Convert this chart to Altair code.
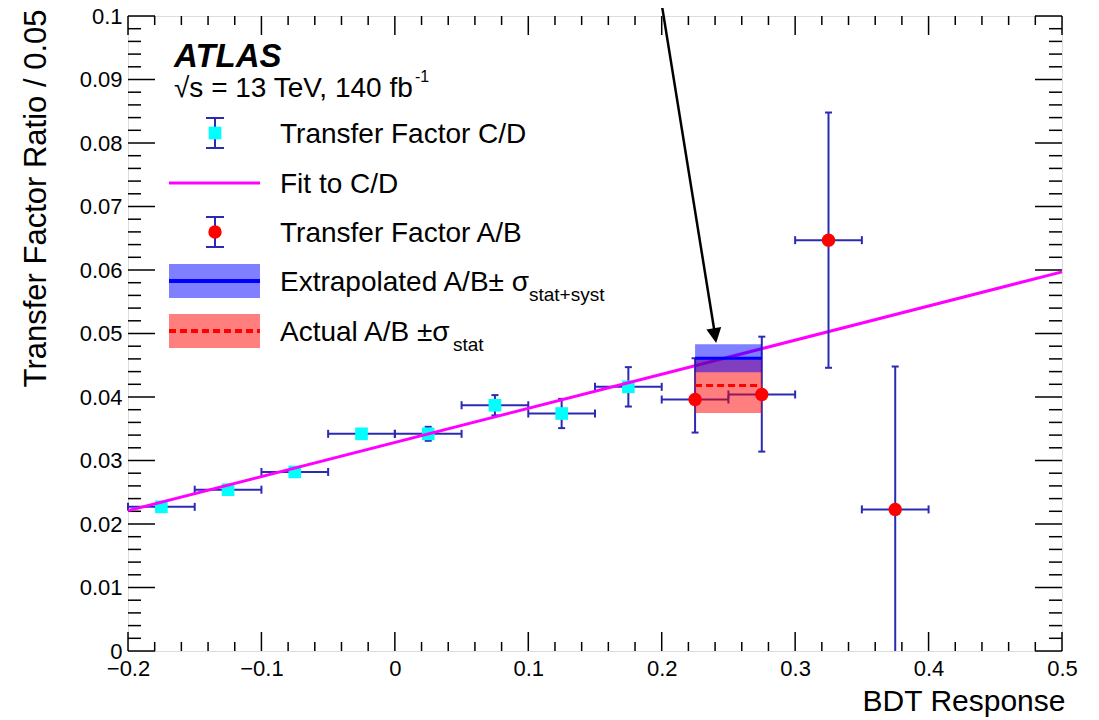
import altair as alt
import pandas as pd

# ---------------- data ----------------
cd_x = [-0.175, -0.125, -0.075, -0.025, 0.025, 0.075, 0.125, 0.175]
cd_y = [0.0227, 0.0254, 0.0282, 0.0342, 0.0342, 0.0387, 0.0374, 0.0416]
cd_yerr = [0.0005, 0.0005, 0.0006, 0.0006, 0.0011, 0.0016, 0.0023, 0.0031]
bin_half = 0.025

ab_x = [0.225, 0.275, 0.325, 0.375]
ab_y = [0.0396, 0.0404, 0.0647, 0.0223]
ab_yerr_lo = [0.0052, 0.0090, 0.0201, 0.0223]
ab_yerr_hi = [0.0065, 0.0091, 0.0201, 0.0225]

fit_x = [-0.2, 0.5]
fit_y = [0.0221, 0.0597]

box_x = [0.225, 0.275]
ext_center, ext_err = 0.0461, 0.0022
act_center, act_err = 0.0418, 0.0043

arrow_x = [0.1995, 0.2398]
arrow_y = [0.1025, 0.0500]
arrow_tip = [0.2408, 0.0485]

x_major = [-0.2, -0.1, 0.0, 0.1, 0.2, 0.3, 0.4, 0.5]
y_major = [0.0, 0.01, 0.02, 0.03, 0.04, 0.05, 0.06, 0.07, 0.08, 0.09, 0.1]
x_minor = [round(-0.2 + 0.02 * i, 3) for i in range(36) if i % 5 != 0]
y_minor = [round(0.002 * i, 4) for i in range(51) if i % 5 != 0]

legend_labels = ["Transfer Factor C/D", "Fit to C/D", "Transfer Factor A/B",
                 "Extrapolated A/B\u00b1 \u03c3", "Actual A/B \u00b1\u03c3"]
legend_subs = ["stat+syst", "stat"]

W, H = 934, 635
FONT = "Liberation Sans"
ERRC = "#2a2ab4"

xs = alt.Scale(domain=[-0.2, 0.5], nice=False, zero=False)
ys = alt.Scale(domain=[0.0, 0.1], nice=False, zero=False)

XAX = alt.Axis(values=x_major, format=".1~f", grid=False, ticks=False, domain=False,
               labelFontSize=22, labelPadding=7, labelOverlap=False, labelFlush=False,
               labelColor="black", labelFont=FONT,
               title="BDT Response", titleFontSize=30, titleFontWeight="normal",
               titleFont=FONT, titleColor="black", titleAlign="right",
               titleAnchor="end", titleX=W + 3, titleY=59, titleBaseline="alphabetic")
YAX = alt.Axis(values=y_major, format=".2~f", grid=False, ticks=False, domain=False,
               labelFontSize=22, labelPadding=6, labelOverlap=False, labelFlush=False,
               labelColor="black", labelFont=FONT,
               title="Transfer Factor Ratio / 0.05", titleFontSize=31,
               titleFontWeight="normal", titleFont=FONT, titleColor="black",
               titleAngle=270, titleAlign="right", titleAnchor="end",
               titleX=-83, titleY=-7, titleBaseline="alphabetic")


def X(f):
    return alt.X(f, type="quantitative", scale=xs, axis=XAX, title="BDT Response")


def Y(f):
    return alt.Y(f, type="quantitative", scale=ys, axis=YAX, title="Transfer Factor Ratio / 0.05")


cd = pd.DataFrame({"x": cd_x, "y": cd_y})
cd["xlo"] = cd["x"] - bin_half
cd["xhi"] = cd["x"] + bin_half
cd["ylo"] = cd["y"] - pd.Series(cd_yerr)
cd["yhi"] = cd["y"] + pd.Series(cd_yerr)

ab = pd.DataFrame({"x": ab_x, "y": ab_y})
ab["xlo"] = ab["x"] - bin_half
ab["xhi"] = ab["x"] + bin_half
ab["ylo"] = ab["y"] - pd.Series(ab_yerr_lo)
ab["yhi"] = ab["y"] + pd.Series(ab_yerr_hi)

fit = pd.DataFrame({"x": fit_x, "y": fit_y})
box = pd.DataFrame({
    "x": [box_x[0]], "x2": [box_x[1]],
    "elo": [ext_center - ext_err], "ehi": [ext_center + ext_err], "ec": [ext_center],
    "alo": [act_center - act_err], "ahi": [act_center + act_err], "ac": [act_center],
})
arrow = pd.DataFrame({"x": [arrow_x[0]], "x2": [arrow_x[1]], "y": [arrow_y[0]], "y2": [arrow_y[1]]})
tip = pd.DataFrame({"x": [arrow_tip[0]], "y": [arrow_tip[1]]})

one = pd.DataFrame({"a": [0]})

layers = []

# frame ticks (inward, ROOT style)
def tick_layer(vals, side, length):
    df = pd.DataFrame({"v": vals})
    base = alt.Chart(df).mark_rule(color="black", strokeWidth=1.5)
    if side == "bottom":
        return base.encode(x=X("v"), y=alt.value(H), y2=alt.value(H - length))
    if side == "top":
        return base.encode(x=X("v"), y=alt.value(0), y2=alt.value(length))
    if side == "left":
        return base.encode(y=Y("v"), x=alt.value(0), x2=alt.value(length))
    return base.encode(y=Y("v"), x=alt.value(W), x2=alt.value(W - length))

layers += [
    tick_layer(x_major, "bottom", 19), tick_layer(x_minor, "bottom", 9),
    tick_layer(x_major, "top", 19), tick_layer(x_minor, "top", 9),
    tick_layer(y_major, "left", 27), tick_layer(y_minor, "left", 13),
    tick_layer(y_major, "right", 27), tick_layer(y_minor, "right", 13),
]

# C/D error bars
cd_base = alt.Chart(cd)
layers += [
    cd_base.mark_rule(color=ERRC, strokeWidth=2).encode(x=X("xlo"), x2="xhi", y=Y("y")),
    cd_base.mark_rule(color=ERRC, strokeWidth=2).encode(x=X("x"), y=Y("ylo"), y2="yhi"),
    cd_base.mark_tick(color=ERRC, orient="vertical", size=8, thickness=2, opacity=1).encode(x=X("xlo"), y=Y("y")),
    cd_base.mark_tick(color=ERRC, orient="vertical", size=8, thickness=2, opacity=1).encode(x=X("xhi"), y=Y("y")),
    cd_base.mark_tick(color=ERRC, orient="horizontal", size=7, thickness=2, opacity=1).encode(x=X("x"), y=Y("ylo")),
    cd_base.mark_tick(color=ERRC, orient="horizontal", size=7, thickness=2, opacity=1).encode(x=X("x"), y=Y("yhi")),
    cd_base.mark_square(color="#00ffff", size=160, opacity=1).encode(x=X("x"), y=Y("y")),
]

# fit line
layers.append(alt.Chart(fit).mark_line(color="#ff00ff", strokeWidth=3).encode(x=X("x"), y=Y("y")))

# A/B error bars
ab_base = alt.Chart(ab)
layers += [
    ab_base.mark_rule(color=ERRC, strokeWidth=2).encode(x=X("xlo"), x2="xhi", y=Y("y")),
    ab_base.mark_rule(color=ERRC, strokeWidth=2).encode(x=X("x"), y=Y("ylo"), y2="yhi"),
    ab_base.mark_tick(color=ERRC, orient="vertical", size=8, thickness=2, opacity=1).encode(x=X("xlo"), y=Y("y")),
    ab_base.mark_tick(color=ERRC, orient="vertical", size=8, thickness=2, opacity=1).encode(x=X("xhi"), y=Y("y")),
    ab_base.transform_filter("datum.ylo > 0").mark_tick(color=ERRC, orient="horizontal", size=7, thickness=2, opacity=1).encode(x=X("x"), y=Y("ylo")),
    ab_base.mark_tick(color=ERRC, orient="horizontal", size=7, thickness=2, opacity=1).encode(x=X("x"), y=Y("yhi")),
    ab_base.mark_circle(color="#ff0000", size=180, opacity=1).encode(x=X("x"), y=Y("y")),
]

# extrapolated / actual boxes
bb = alt.Chart(box)
layers += [
    bb.mark_rect(color="#ff0000", opacity=0.5).encode(x=X("x"), x2="x2", y=Y("alo"), y2="ahi"),
    bb.mark_rect(color="#0000ff", opacity=0.5).encode(x=X("x"), x2="x2", y=Y("elo"), y2="ehi"),
    bb.mark_rule(color="#0000ff", strokeWidth=3).encode(x=X("x"), x2="x2", y=Y("ec")),
    bb.mark_rule(color="#ff0000", strokeWidth=3, strokeDash=[7, 4]).encode(x=X("x"), x2="x2", y=Y("ac")),
]

# arrow
layers += [
    alt.Chart(arrow).mark_rule(color="black", strokeWidth=2.5).encode(x=X("x"), x2="x2", y=Y("y"), y2="y2"),
    alt.Chart(tip).mark_point(shape="M0,0L-0.5,-1L0.5,-1Z", size=900, filled=True, color="black",
                              opacity=1, angle=351, strokeWidth=0).encode(x=X("x"), y=Y("y")),
]

# ATLAS label
o = alt.Chart(one)
layers += [
    o.mark_text(text="ATLAS", font=FONT, fontSize=33, fontWeight="bold", fontStyle="italic",
                align="left", baseline="alphabetic", color="black").encode(x=alt.value(46), y=alt.value(51)),
    o.mark_text(text="\u221as = 13 TeV, 140 fb", font=FONT, fontSize=28, align="left",
                baseline="alphabetic", color="black").encode(x=alt.value(46), y=alt.value(81)),
    o.mark_text(text="-1", font=FONT, fontSize=16, align="left", baseline="alphabetic",
                color="black").encode(x=alt.value(287), y=alt.value(66)),
]

# legend
LX, LX1, LX2, TX = 87, 41, 132, 152
rows = [117, 167, 216, 265, 315]
for i, lab in enumerate(legend_labels):
    layers.append(o.mark_text(text=lab, font=FONT, fontSize=28, align="left", baseline="alphabetic",
                              color="black").encode(x=alt.value(TX), y=alt.value(rows[i] + 10)))
layers += [
    o.mark_text(text=legend_subs[0], font=FONT, fontSize=19, align="left", baseline="alphabetic",
                color="black").encode(x=alt.value(401), y=alt.value(rows[3] + 20)),
    o.mark_text(text=legend_subs[1], font=FONT, fontSize=19, align="left", baseline="alphabetic",
                color="black").encode(x=alt.value(325), y=alt.value(rows[4] + 20)),
    # C/D symbol
    o.mark_rule(color=ERRC, strokeWidth=2).encode(x=alt.value(LX), y=alt.value(rows[0] - 15), y2=alt.value(rows[0] + 15)),
    o.mark_rule(color=ERRC, strokeWidth=2).encode(x=alt.value(LX - 9), x2=alt.value(LX + 9), y=alt.value(rows[0] - 15)),
    o.mark_rule(color=ERRC, strokeWidth=2).encode(x=alt.value(LX - 9), x2=alt.value(LX + 9), y=alt.value(rows[0] + 15)),
    o.mark_square(color="#00ffff", size=160, opacity=1).encode(x=alt.value(LX), y=alt.value(rows[0])),
    # fit symbol
    o.mark_rule(color="#ff00ff", strokeWidth=3).encode(x=alt.value(LX1), x2=alt.value(LX2), y=alt.value(rows[1])),
    # A/B symbol
    o.mark_rule(color=ERRC, strokeWidth=2).encode(x=alt.value(LX), y=alt.value(rows[2] - 15), y2=alt.value(rows[2] + 15)),
    o.mark_rule(color=ERRC, strokeWidth=2).encode(x=alt.value(LX - 9), x2=alt.value(LX + 9), y=alt.value(rows[2] - 15)),
    o.mark_rule(color=ERRC, strokeWidth=2).encode(x=alt.value(LX - 9), x2=alt.value(LX + 9), y=alt.value(rows[2] + 15)),
    o.mark_circle(color="#ff0000", size=180, opacity=1).encode(x=alt.value(LX), y=alt.value(rows[2])),
    # extrapolated symbol
    o.mark_rect(color="#0000ff", opacity=0.5).encode(x=alt.value(LX1), x2=alt.value(LX2), y=alt.value(rows[3] - 17), y2=alt.value(rows[3] + 17)),
    o.mark_rule(color="#0000ff", strokeWidth=4).encode(x=alt.value(LX1), x2=alt.value(LX2), y=alt.value(rows[3])),
    # actual symbol
    o.mark_rect(color="#ff0000", opacity=0.5).encode(x=alt.value(LX1), x2=alt.value(LX2), y=alt.value(rows[4] - 17), y2=alt.value(rows[4] + 17)),
    o.mark_rule(color="#ff0000", strokeWidth=4, strokeDash=[7, 4]).encode(x=alt.value(LX1), x2=alt.value(LX2), y=alt.value(rows[4])),
]

chart = alt.layer(*layers).properties(
    width=W, height=H,
    autosize=alt.AutoSizeParams(type="none"),
    padding={"left": 120, "top": 8, "right": 20, "bottom": 66},
).configure_view(stroke="black", strokeWidth=2).configure(font=FONT)

chart.save("out.html", embed_options={"renderer": "svg", "actions": False})
